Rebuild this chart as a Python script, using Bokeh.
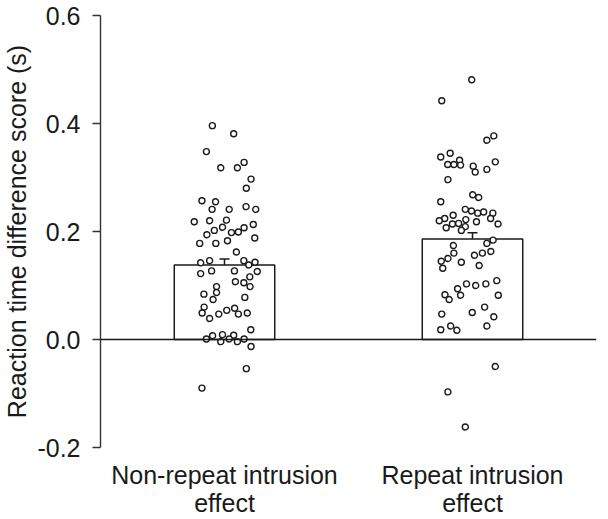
from bokeh.plotting import figure
from bokeh.models import Range1d, FixedTicker, PrintfTickFormatter, Span, Whisker, TeeHead, ColumnDataSource
from bokeh.embed import file_html
from bokeh.resources import INLINE

categories = ["Non-repeat intrusion\neffect", "Repeat intrusion\neffect"]
means = [0.138, 0.186]
sems = [0.011, 0.0115]

nonrepeat_values = [0.396, 0.381, 0.348, 0.318, 0.318, 0.328, 0.297, 0.280, 0.257, 0.255,
                    0.241, 0.241, 0.246, 0.241, 0.218, 0.220, 0.221, 0.208, 0.202, 0.194,
                    0.198, 0.199, 0.207, 0.213, 0.188, 0.178, 0.178, 0.183, 0.162, 0.142,
                    0.146, 0.146, 0.138, 0.143, 0.122, 0.127, 0.127, 0.126, 0.116, 0.107,
                    0.105, 0.098, 0.098, 0.087, 0.084, 0.078, 0.074, 0.060, 0.049, 0.039,
                    0.047, 0.054, 0.058, 0.047, 0.049, 0.018, 0.001, 0.007, 0.009, 0.008,
                    -0.004, 0.001, -0.004, 0.001, -0.013, -0.054, -0.090, -0.215]
nonrepeat_jitter = [-0.049, 0.037, -0.073, -0.015, 0.052, 0.079, 0.107, 0.088, -0.091, -0.036,
                    -0.050, 0.019, 0.087, 0.126, -0.122, -0.060, 0.008, -0.008, -0.041, -0.071,
                    0.028, 0.056, 0.079, 0.116, 0.122, -0.100, -0.035, 0.012, 0.048, -0.096,
                    -0.060, 0.078, 0.098, 0.123, -0.096, -0.052, 0.040, 0.132, 0.102, 0.044,
                    0.078, 0.103, -0.032, -0.032, -0.083, 0.082, -0.046, -0.082, -0.090, -0.060,
                    -0.023, 0.009, 0.041, 0.056, 0.092, 0.106, -0.073, -0.048, -0.008, 0.037,
                    -0.015, 0.019, 0.052, 0.079, 0.107, 0.088, -0.091, -0.036]

repeat_values = [0.481, 0.442, 0.377, 0.369, 0.345, 0.338, 0.332, 0.324, 0.324, 0.323,
                 0.321, 0.329, 0.310, 0.315, 0.296, 0.268, 0.263, 0.255, 0.241, 0.238,
                 0.234, 0.236, 0.234, 0.230, 0.224, 0.220, 0.215, 0.222, 0.214, 0.218,
                 0.224, 0.214, 0.207, 0.209, 0.202, 0.184, 0.178, 0.174, 0.160, 0.150,
                 0.145, 0.132, 0.143, 0.156, 0.160, 0.163, 0.137, 0.109, 0.103, 0.100,
                 0.103, 0.094, 0.082, 0.083, 0.074, 0.082, 0.060, 0.047, 0.050, 0.042,
                 0.018, 0.025, 0.017, 0.025, -0.050, -0.097, -0.162]
repeat_jitter = [-0.003, -0.124, 0.086, 0.058, -0.090, -0.128, -0.052, -0.100, -0.075, -0.048,
                 0.003, 0.092, 0.011, 0.058, -0.099, 0.001, 0.025, -0.128, -0.029, -0.004,
                 0.021, 0.045, 0.082, -0.078, -0.112, -0.134, -0.056, -0.027, -0.081, 0.016,
                 0.073, 0.103, -0.106, -0.029, -0.045, 0.083, 0.058, -0.077, -0.075, -0.099,
                 -0.126, -0.120, -0.045, 0.008, 0.040, 0.074, 0.027, 0.098, 0.054, 0.013,
                 -0.024, -0.060, -0.048, -0.111, -0.094, 0.104, 0.049, -0.124, -0.001, 0.086,
                 -0.128, -0.088, -0.063, 0.058, 0.092, -0.099, -0.029]

y_ticks = [-0.2, 0.0, 0.2, 0.4, 0.6]

FONT = "Liberation Sans"
INK = "#1a1a1a"

centers = [i + 0.5 for i in range(len(categories))]

p = figure(width=600, height=519, output_backend="svg", toolbar_location=None,
           x_range=Range1d(0, len(categories)), y_range=Range1d(y_ticks[0], y_ticks[-1]),
           min_border_left=92, min_border_right=4, min_border_top=15, min_border_bottom=71)
p.outline_line_color = None
p.grid.visible = False
p.background_fill_color = "white"

# bars
p.vbar(x=centers, top=means, bottom=0, width=0.405, fill_color="white",
       line_color=INK, line_width=1.5)

# zero line
p.add_layout(Span(location=0, dimension="width", line_color=INK, line_width=1.5))

# points
xs = [centers[0] + j for j in nonrepeat_jitter] + [centers[1] + j for j in repeat_jitter]
ys = nonrepeat_values + repeat_values
p.scatter(x=xs, y=ys, size=6, marker="circle", fill_color="white",
          line_color=INK, line_width=1.4)

# error bars
err = ColumnDataSource(dict(base=centers,
                            upper=[m + s for m, s in zip(means, sems)],
                            lower=[m - s for m, s in zip(means, sems)]))
p.add_layout(Whisker(source=err, base="base", upper="upper", lower="lower",
                     line_color=INK, line_width=1.5,
                     upper_head=TeeHead(size=10, line_color=INK, line_width=1.5),
                     lower_head=TeeHead(size=10, line_color=INK, line_width=1.5)))

# y axis
ya = p.yaxis[0]
ya.ticker = FixedTicker(ticks=y_ticks)
ya.formatter = PrintfTickFormatter(format="%.1f")
ya.axis_label = "Reaction time difference score (s)"
ya.axis_label_text_font = FONT
ya.axis_label_text_font_size = "25px"
ya.axis_label_text_font_style = "normal"
ya.axis_label_text_color = INK
ya.axis_label_standoff = 3
ya.major_label_text_font = FONT
ya.major_label_text_font_size = "25px"
ya.major_label_text_color = INK
ya.major_label_standoff = 12
ya.major_tick_out = 8
ya.major_tick_in = 0
ya.minor_tick_line_color = None
ya.axis_line_color = "#333333"
ya.axis_line_width = 1.4
ya.major_tick_line_color = "#333333"
ya.major_tick_line_width = 1.4

# x axis (category labels only)
xa = p.xaxis[0]
xa.ticker = FixedTicker(ticks=centers)
xa.major_label_overrides = {c: lab for c, lab in zip(centers, categories)}
xa.major_label_text_font = FONT
xa.major_label_text_font_size = "25px"
xa.major_label_text_color = INK
xa.major_label_text_line_height = 1.0
xa.major_label_standoff = 13
xa.major_tick_out = 0
xa.major_tick_in = 0
xa.axis_line_color = None
xa.major_tick_line_color = None
xa.minor_tick_line_color = None

open("out.html", "w").write(file_html(p, INLINE))
